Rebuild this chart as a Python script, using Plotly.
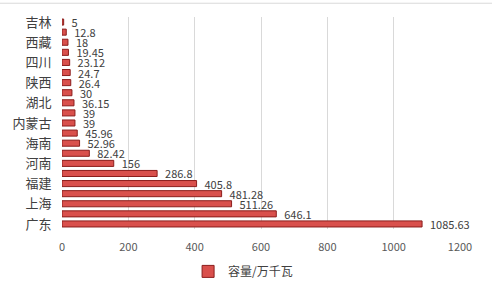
import plotly.graph_objects as go

categories = ["吉林", "重庆", "西藏", "宁夏", "四川", "辽宁", "陕西", "江西", "湖北", "湖南",
              "内蒙古", "广西", "海南", "天津", "河南", "山东", "福建", "江苏", "上海", "浙江", "广东"]
values = [5, 12.8, 18, 19.45, 23.12, 24.7, 26.4, 30, 36.15, 39,
          39, 45.96, 52.96, 82.42, 156, 286.8, 405.8, 481.28, 511.26, 646.1, 1085.63]
shown_labels = ["吉林", "西藏", "四川", "陕西", "湖北", "内蒙古", "海南", "河南", "福建", "上海", "广东"]
x_ticks = [0, 200, 400, 600, 800, 1000, 1200]
series_name = "容量/万千瓦"

font_family = "Microsoft YaHei, Noto Sans CJK SC, sans-serif"

fig = go.Figure()
fig.add_trace(go.Bar(
    y=categories, x=values, orientation="h", name=series_name,
    marker=dict(color="#D9504C", line=dict(color="#8B1E1C", width=1)),
    text=["  " + str(v) for v in values], textposition="outside", cliponaxis=False,
    constraintext="none",
    textfont=dict(size=11, color="#404040", family=font_family),
    width=0.6,
))

fig.update_layout(
    width=492, height=291,
    margin=dict(l=62, r=32, t=17, b=62, autoexpand=False),
    paper_bgcolor="white", plot_bgcolor="white",
    font=dict(family=font_family, color="#404040"),
    showlegend=True,
    uniformtext=dict(minsize=10, mode="show"),
    legend=dict(orientation="h", x=0.455, xanchor="center", y=-0.2, yanchor="middle",
                font=dict(size=12, color="#404040"), itemwidth=30),
    xaxis=dict(range=[0, 1200], tickvals=x_ticks, showgrid=True, gridcolor="#D9D9D9",
               gridwidth=1, zeroline=False, showline=False,
               tickfont=dict(size=11, color="#595959"), ticks="outside", ticklen=8,
               tickcolor="rgba(0,0,0,0)"),
    yaxis=dict(categoryorder="array", categoryarray=categories[::-1],
               tickvals=shown_labels, ticktext=shown_labels, showgrid=False,
               tickfont=dict(size=13, color="#404040"), ticks="outside", ticklen=7,
               tickcolor="rgba(0,0,0,0)", showline=False),
    bargap=0.35,
)

fig.add_shape(type="line", xref="paper", yref="paper", x0=-0.2, x1=1.1, y0=1.065, y1=1.065,
              line=dict(color="#D9D9D9", width=1))

fig.write_html("out.html")
